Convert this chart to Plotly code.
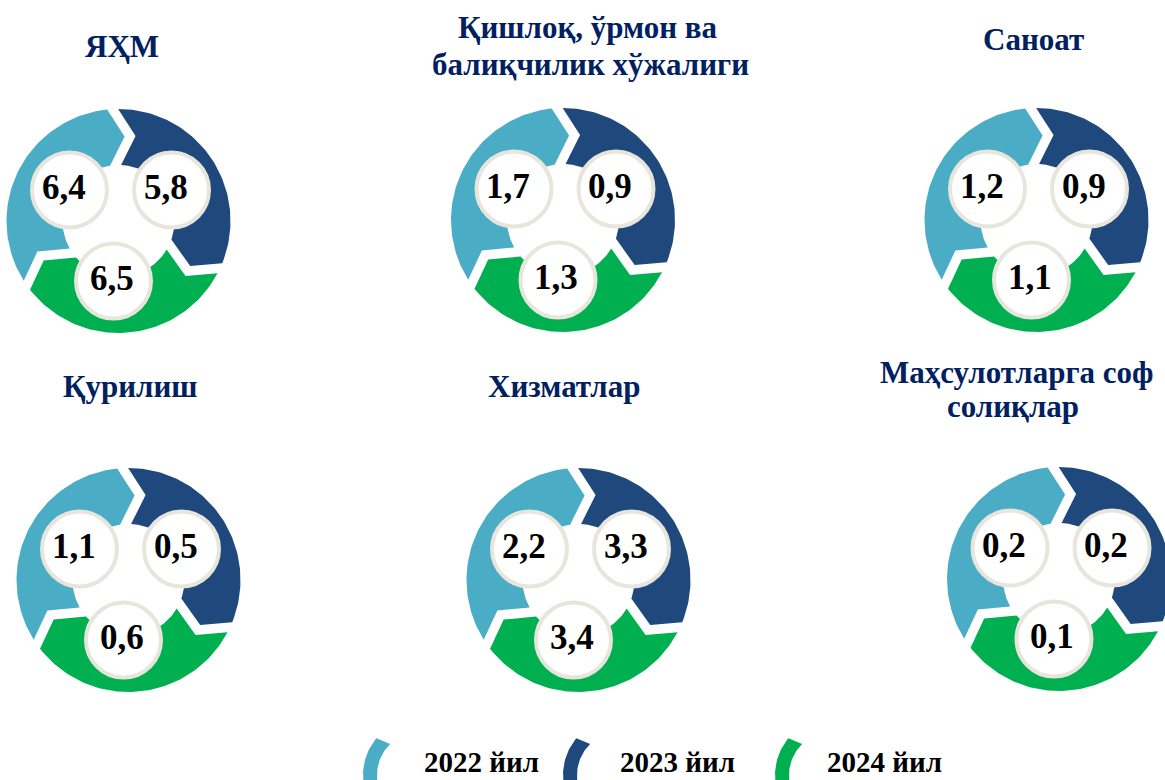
import numpy as np
import plotly.graph_objects as go

# ---------------- data ----------------
sectors = ["ЯҲМ", "Қишлоқ, ўрмон ва балиқчилик хўжалиги", "Саноат",
           "Қурилиш", "Хизматлар", "Маҳсулотларга соф солиқлар"]
title_lines = [["ЯҲМ"], ["Қишлоқ, ўрмон ва", "балиқчилик хўжалиги"], ["Саноат"],
               ["Қурилиш"], ["Хизматлар"], ["Маҳсулотларга соф", "солиқлар"]]
years = ["2022 йил", "2023 йил", "2024 йил"]
values_2022 = [6.4, 1.7, 1.2, 1.1, 2.2, 0.2]
values_2023 = [5.8, 0.9, 0.9, 0.5, 3.3, 0.2]
values_2024 = [6.5, 1.3, 1.1, 0.6, 3.4, 0.1]

# ---------------- layout constants ----------------
COLORS = ["#4BACC6", "#1F497D", "#00B050"]
TITLE_COLOR = "#002060"
FONT = "Liberation Serif, Times New Roman, serif"
W, H = 1165, 780

ring_centers = [(118.5, 221), (563, 220), (1036.5, 220),
                (128.5, 580), (578.5, 580), (1059, 579)]
title_pos = [[(121.5, 46.5)], [(588, 27.5), (590, 64)], [(1033, 39)],
             [(130, 386)], [(564, 386)], [(1016, 372.5), (1013, 406)]]
RO, RI = 112.0, 56.0
RM = (RO + RI) / 2
GAP = 11.0
DEPTH = 16.0
BOUNDS = [-3.0, 115.0, 235.0]          # boundary angles (deg, clockwise from top)
SEG_SPANS = [(BOUNDS[2], BOUNDS[0] + 360), (BOUNDS[0], BOUNDS[1]), (BOUNDS[1], BOUNDS[2])]
CIRCLE_OFF = [(-49, -31), (53, -31), (-5, 60)]
TEXT_OFF = [(-6, -3), (-6, -3), (-2, -3)]


def pt(cx, cy, r, th, s=0.0):
    t = np.radians(th)
    ux, uy = np.sin(t), -np.cos(t)
    tx, ty = np.cos(t), np.sin(t)
    return cx + r * ux + s * tx, cy + r * uy + s * ty


def segment(cx, cy, a, b):
    xs, ys = [], []
    do = np.degrees(np.arcsin(GAP / 2 / RO))
    di = np.degrees(np.arcsin(GAP / 2 / RI))
    for th in np.linspace(a + do, b - do, 80):
        x, y = pt(cx, cy, RO, th)
        xs.append(x); ys.append(y)
    x, y = pt(cx, cy, RM, b, -GAP / 2 + DEPTH); xs.append(x); ys.append(y)
    for th in np.linspace(b - di, a + di, 60):
        x, y = pt(cx, cy, RI, th)
        xs.append(x); ys.append(y)
    x, y = pt(cx, cy, RM, a, GAP / 2 + DEPTH); xs.append(x); ys.append(y)
    xs.append(xs[0]); ys.append(ys[0])
    return xs, ys


fig = go.Figure()
annotations = []
values = [values_2022, values_2023, values_2024]

for i, (cx, cy) in enumerate(ring_centers):
    for k in range(3):
        a, b = SEG_SPANS[k]
        xs, ys = segment(cx, cy, a, b)
        fig.add_trace(go.Scatter(x=xs, y=ys, mode="lines", fill="toself",
                                 fillcolor=COLORS[k], line=dict(width=0),
                                 hoverinfo="skip", showlegend=False))
    px, py = [], []
    for k in range(3):
        x, y = cx + CIRCLE_OFF[k][0], cy + CIRCLE_OFF[k][1]
        px.append(x); py.append(y)
        label = f"{values[k][i]:.1f}".replace(".", ",")
        annotations.append(dict(x=x + TEXT_OFF[k][0], y=y + TEXT_OFF[k][1], xref="x", yref="y",
                                text=f"<b>{label}</b>",
                                showarrow=False, xanchor="center", yanchor="middle",
                                font=dict(family=FONT, size=35, color="black")))
    fig.add_trace(go.Scatter(
        x=px, y=py, mode="markers",
        marker=dict(size=75, color="white", line=dict(color="#E8E6DC", width=4)),
        hoverinfo="skip", showlegend=False))
    for line, (tx, ty) in zip(title_lines[i], title_pos[i]):
        annotations.append(dict(x=tx, y=ty, xref="x", yref="y", text=f"<b>{line}</b>",
                                showarrow=False, xanchor="center", yanchor="middle",
                                font=dict(family=FONT, size=31, color=TITLE_COLOR)))

# ---------------- legend ----------------
icon_left = [363, 563, 775]
text_left = [422, 618, 825]
for k in range(3):
    cx, cy = icon_left[k] + 57, 775
    xs, ys = [], []
    for th in np.linspace(-97, -50, 30):
        x, y = pt(cx, cy, 57, th); xs.append(x); ys.append(y)
    for th in np.linspace(-44, -97, 30):
        x, y = pt(cx, cy, 43, th); xs.append(x); ys.append(y)
    xs.append(xs[0]); ys.append(ys[0])
    fig.add_trace(go.Scatter(x=xs, y=ys, mode="lines", fill="toself",
                             fillcolor=COLORS[k], line=dict(width=0),
                             hoverinfo="skip", showlegend=False))
    annotations.append(dict(x=text_left[k], y=762, xref="x", yref="y",
                            text=f"<b>{years[k]}</b>", showarrow=False,
                            xanchor="left", yanchor="middle",
                            font=dict(family=FONT, size=29, color="black")))

fig.update_layout(
    width=W, height=H, margin=dict(l=0, r=0, t=0, b=0),
    paper_bgcolor="white", plot_bgcolor="white",
    xaxis=dict(range=[0, W], visible=False, fixedrange=True),
    yaxis=dict(range=[H, 0], visible=False, fixedrange=True),
    annotations=annotations, showlegend=False,
)

fig.write_html("out.html", config={"displayModeBar": False},
               post_script="document.body.style.margin='0';document.body.style.overflow='hidden';")
